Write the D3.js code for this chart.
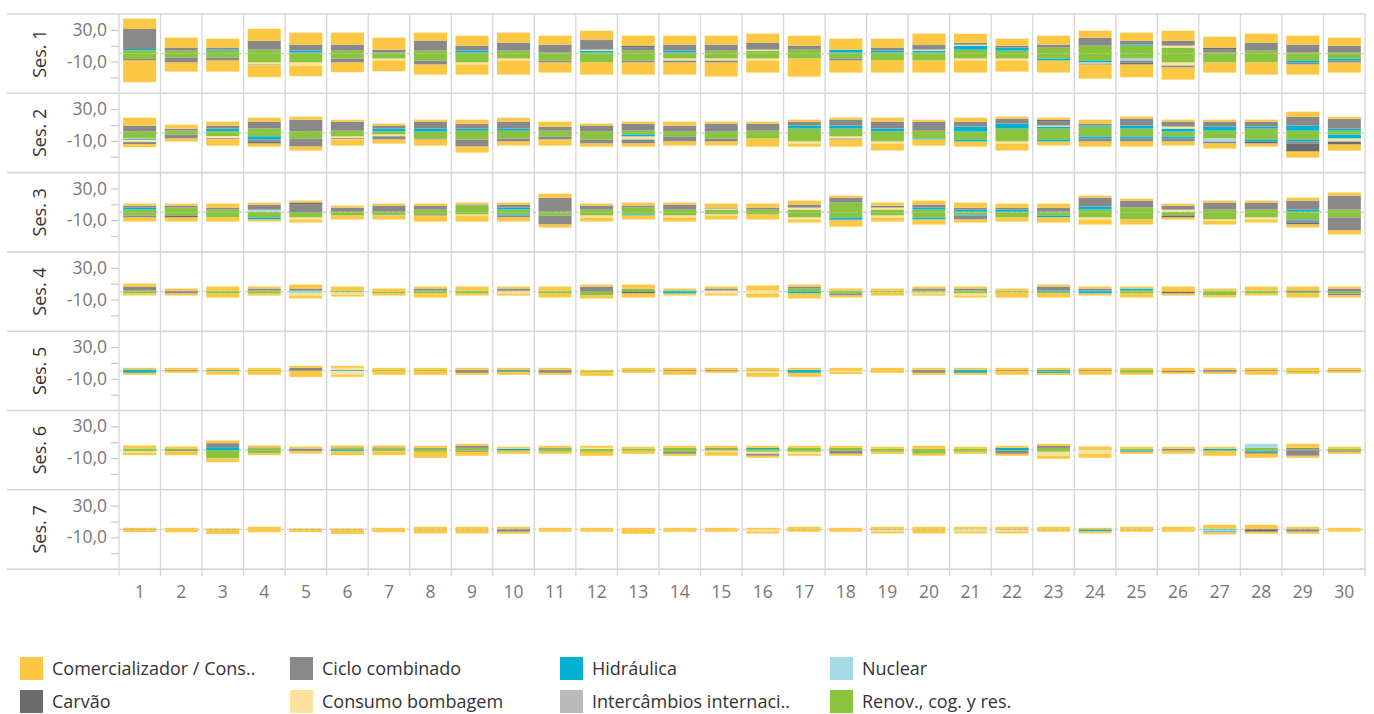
<!DOCTYPE html>
<html><head><meta charset="utf-8">
<script src="https://cdn.jsdelivr.net/npm/d3@7"></script>
<style>
body{margin:0;background:#fff;}
text{font-family:"Open Sans","Noto Sans",sans-serif;}
</style>
</head><body>
<svg id="chart" width="1374" height="714"></svg>
<script>
const sessions = ["Ses. 1","Ses. 2","Ses. 3","Ses. 4","Ses. 5","Ses. 6","Ses. 7"];
const days = ["1","2","3","4","5","6","7","8","9","10","11","12","13","14","15","16","17","18","19","20","21","22","23","24","25","26","27","28","29","30"];
const categories = ["Comercializador / Cons..","Ciclo combinado","Hidráulica","Nuclear","Carvão","Consumo bombagem","Intercâmbios internaci..","Renov., cog. y res."];
const colors = ["#FCC843","#898989","#00B2D0","#A6D9E6","#6B6B6B","#FCE29C","#BABABA","#8AC43F"];
// stacking order outward from zero
const stackOrder = ["Renov., cog. y res.","Nuclear","Intercâmbios internaci..","Hidráulica","Consumo bombagem","Ciclo combinado","Carvão","Comercializador / Cons.."];
const yTicks = [30,10,-10,-30];
const yTickLabels = ["30,0","","-10,0",""];

// ---- values (one row per session, one value per day) ----
const renovPos = [
[4.2,3.8,3.8,5,1.3,3.8,1.3,3.8,1.3,3.8,1.3,1.3,3.8,1.3,3.8,3.8,5,1.3,1.3,1.3,5,3.8,7.6,10.1,10.1,7.6,1.3,3.8,1.3,1.3],
[2.1,2.9,2.1,5.5,2.1,2.9,2.1,1.7,2.9,2.9,2.9,1.7,2.9,1.7,1.7,2.9,5.5,5.5,1.7,2.9,1.7,5.5,5.5,8,5.5,1.7,2.9,5.5,2.9,2.9],
[3.4,5.9,3.4,0.8,0,0.8,0.8,3.4,8.4,3.4,0.8,3.4,5.9,3.4,3.4,3.4,3.4,12.2,3.4,3.4,0.8,0.8,0.8,3.4,5.9,0.8,3.4,3.4,0.8,3.4],
[1.3,0,1.3,1.3,1.3,1.3,0,1.3,1.3,1.3,1.3,0,3.8,0,0,0,3.8,1.3,1.3,1.3,1.3,1.3,0,0,1.3,0,1.3,1.3,0,0],
[0,0,0,1.3,0,0,1.3,1.3,0,0,0,0,1.3,0,0,1.3,0,0,0,0,0,0,0,0,1.3,0,0,0,0,0],
[2.1,2.1,0,2.1,0,2.1,2.1,1.7,2.9,0,1.7,1.7,1.7,2.9,1.7,1.3,2.9,2.9,1.7,1.7,1.7,0,2.9,0.8,1.7,0,0,2.9,1.3,1.7],
[0,0,0,0,0,0,0,0,0,0,0,0,0,0,0,0,0,0,0,0,0,0,0.8,0,0,0,0,0,0,0]];
const renovNeg = [
[6.7,5,5,11.3,11.3,6.3,6.3,8.8,11.3,6.3,8.8,11.3,8.8,6.3,6.3,6.3,6.3,6.3,8.8,8.8,6.3,6.3,6.3,8.8,6.3,11.3,11.3,11.3,8.8,6.3],
[6.7,2.1,4.2,4.2,7.1,4.6,2.1,7.1,8.4,7.1,4.6,8.4,2.1,4.6,7.1,7.1,10.9,4.6,10.9,7.1,8.4,10.9,8.4,4.6,4.6,4.6,7.1,8.4,8.4,2.1],
[4.2,4.2,6.7,6.7,6.7,4.2,2.9,2.9,2.9,2.9,4.2,4.2,2.9,4.2,2.9,2.9,6.7,6.7,4.2,6.7,2.9,6.7,4.2,6.7,9.2,4.2,9.2,6.7,9.2,6.7],
[2.5,0,2.5,2.5,0,1.3,2.5,2.5,2.5,0,2.5,5,0,0,0,0,0,2.5,1.3,1.3,2.5,1.3,2.5,0,2.5,0,5,2.5,2.5,2.5],
[0,0,0,0,0,0,0,0,0,0,0,1.3,0,0,0,0,0,0,0,0,0,0,1.3,0,2.5,0,0,0,1.3,0],
[1.7,0,10.5,4.2,0,0,1.3,2.1,0.8,0,2.1,2.1,0.8,2.1,0.8,2.1,2.1,0.8,2.1,4.6,2.1,0.8,2.1,0,0.8,0,0,0.8,0,0.8],
[0,0,0,0,0,0,0,0,0,0,0,0,0,0,0,0,0,0,0,0,0,0,0,0,0,0,0,0,0,0]];
const nuclearPos = [
[0,0,0,0,0,0,0,0,0,0,0,0,0,0,0,0,0,0,0,0,0,0,0,0,0,0,0,0,0,0],
[0,0,0,0,0,0,0,0,0,0,0,0,0,0,0,0,0,0,0,0,0,0,0,0,0,0,0,0,0,0],
[0,0,0,2.5,0,0,0,0,0,0,0,0,0,0,0,0,0,0,0,0,0,0,0,0,0,0,0,0,0,0],
[0,0,0,0,0,0,0,0,0,0,0,0,0,0,0,0,0,0,0,0,0,0,0,0,0,0,0,0,0,0],
[0,0,0,0,0,0,0,0,0,0,0,0,0,0,0,0,0,0,0,0,0,0,0,0,0,0,0,0,0,0],
[0,0,0,0,0,0,0,0,0,0,0,0,0,0,0,0,0,0,0,0,0,0,0,0,0,0,0,5,0,0],
[0,0,0,0,0,0,0,0,0,0,0,0,0,0,0,0,0,0,0,0,0,0,0,0,0,0,0,0,0,0]];
const nuclearNeg = [
[0,0,0,0,0,0,0,0,0,0,0,0,0,0,0,0,0,0,0,0,0,0,0,0,2.5,0,0,0,0,0],
[0,0,0,0,0,0,0,0,0,0,0,0,0,0,0,0,0,0,0,0,0,0,0,0,0,0,3.8,0,0,0],
[0,0,0,0,0,0,0,0,0,0,0,0,0,0,0,0,0,0,0,0,0,0,0,0,0,0,0,0,0,0],
[0,0,0,0,2.5,0,0,0,0,0,0,0,0,0,0,0,0,0,0,0,0,0,0,0,0,0,0,0,0,0],
[0,0,0,0,0,0,0,0,0,0,0,0,0,0,0,0,0,0,0,0,0,0,0,0,0,0,0,0,0,0],
[0,0,0,0,0,0,0,0,0,0,0,0,0,0,0,0,0,0,0,0,0,0,0,0,0,0,0,0,0,0],
[0,0,0,0,0,0,0,0,0,0,0,0,0,0,0,0,0,0,0,0,0,0,0,0,0,0,2.5,0,0,0]];
const interPos = [
[0,0,0,0,0,0,0,0,0,0,0,0,0,0,0,0,0,0,0,0,0,0,0,0,0,0,0,0,0,0],
[0,0,0,0,0,0,0,0,0,0,0,0,0,0,0,0,0,0,0,0,0,0,0,0,0,0,0,0,0,0],
[0,0,0,0,0,0,0,0,0,0,0,0,0,0,0,0,0,0,0,0,0,0,0,0,0,0,0,0,0,0],
[0,0,0,0,0,0,0,0,0,0,0,0,0,0,0,0,0,0,0,0,0,0,0,0,0,0,0,0,0,0],
[0,0,0,0,0,0,0,0,0,0,0,0,0,0,0,0,0,0,0,0,0,0,0,0,0,0,0,0,0,0],
[0,0,0,0,0,0,0,0,0,0,0,0,0,0,0,0,0,0,0,0,0,0,0,0,0,0,0,0,0,0],
[0,0,0,0,0,0,0,0,0,0,0,0,0,0,0,0,0,0,0,0,0,0,0,0,0,0,0,0,0,0]];
const interNeg = [
[0,0,0,0,0,0,0,0,0,0,0,0,0,0,0,0,0,0,0,0,0,0,0,0,0,0,0,0,0,0],
[1.3,0,0,0,0,0,0,0,0,0,0,0,0,0,0,0,0,0,0,0,0,0,0,0,0,0,0,0,0,0],
[0,0,0,0,0,0,0,0,0,0,0,0,0,0,0,0,0,0,0,0,0,0,0,0,0,0,0,0,0,0],
[0,0,0,0,0,0,0,0,0,0,0,0,0,0,0,0,0,0,0,0,0,0,0,0,0,0,0,0,0,0],
[0,0,0,0,0,0,0,0,0,0,0,0,0,0,0,0,0,0,0,0,0,0,0,0,0,0,0,0,0,0],
[0,0,0,0,0,0,0,0,0,0,0,0,0,0,0,0,0,0,0,0,0,0,0,0,0,0,0,0,0,0],
[0,0,0,0,0,0,0,0,0,0,0,0,0,0,0,0,0,0,0,0,0,0,0,0,0,0,0,0,0,0]];
const hidrPos = [
[1.7,0,1.3,0,2.5,0,0,0,2.5,0,0,2.5,0,2.5,0,0,0,3.8,2.5,2.5,5,3.8,0,0,1.3,0,0,0,0,0],
[0,0,3.4,0,0,0,3.4,3.8,2.5,2.5,0,0,0,0,0,0,3.8,3.8,3.8,0,6.3,6.3,2.5,1.3,3.8,3.8,5,2.5,6.3,2.5],
[2.5,0,0,0,0,0,0,0,0,2.5,0,0,0,0,0,0,0,0,0,2.5,2.5,2.5,0,3.8,0,0,0,0,2.5,0],
[0,0,0,0,0,0,0,0,0,0,0,0,0,1.3,0,0,0,0,0,0,0,0,1.3,1.3,2.5,0,0,0,0,0],
[1.7,0,1.3,0,0,1.3,0,0,0,1.3,0,0,0,0,0,0,1.3,0,0,0,1.3,0,1.3,0,0,0,0,0,0,0],
[0,0,3.8,0,0,0,0,0,0,1.7,0,0,0,0,0,1.7,0,0,0,0,0,2.9,0,0,0,0,1.7,0,0,0],
[0,0,0,0,0,0,0,0,0,0,0,0,0,0,0,0,0,0,0,0,0.8,0,0,0,0,0,0.8,0,0,0]];
const hidrNeg = [
[0,0,0,0,0,0,0,0,0,0,0,0,0,0,0,0,0,0,0,0,0,0,2.5,2.5,0,0,0,0,2.5,2.5],
[1,0,0,4.2,0,0,0,0,0,0,0,0,2.5,0,0,0,0,0,0,1.3,2.5,0,2.5,2.5,2.5,2.5,0,2.5,2.5,5],
[0,0,0,2.5,0,0,0.8,0,0,1.3,0,0,1.3,0,0,0,0,2.5,0,2.5,1.3,0,2.5,0,0,0,0,0,1.3,0],
[0,0,0,0,0,0,0,0,0,0,0,0,0,2.5,0,0,2.5,0,0,0,0,0,0,2.5,0,0,0,0,0,0],
[2.5,0,0,0,0,0,0,0,0,0,0,0,0,0,0,0,2.5,0,0,0,2.5,0,1.3,0,0,0,0,0,0,0],
[0,0,0,0,0,1.3,0,0,0,0.8,0,0,0,0,0,0,0,0,0,0,0,0,0,0,1.3,0,0.8,1.3,0,0],
[0,0,0,0,0,0,0,0,0,0,0,0,0,0,0,0,0,0,0,0,0,0,0,2.5,0,0,1.3,0,0,0]];
const consPos = [
[0,0,0,0,0,0,0,0,0,0,0,1.3,0,0,0,1.3,0,0,0,1.3,1.3,0,0,0,0,2.5,0,0,0,0],
[0,0,0,0,0,0,0,0,0,0,0,0,0,0,0,0,0,0,0,0,0,0,1.3,0,0,2.5,0,0,0,0],
[0,0,0,0,0,0,0,0,0,0,0,0,0,0,1.3,0,2.5,0,2.5,0,0,0,0,0,0,2.5,0,0,0,0],
[0,0,0,0,0,0,0,0,0,0,0,0,0,0,1.3,1.3,0,0,0,0,0,0,0,0,0,0,0,0,0,0],
[0,0,0,0,0,2.5,0,0,0,0,0,0,0,0,0,0,0,0,0,0,0,0,0,0,0,0,0,0,0,0],
[0,0,0,0,0,0,0,0,0,0,0,1.3,0,0,0,0,0,0,0,0,0,0,0,0,0,0,0,0,0,0],
[0,0,0,0,0,0,0,0,0,0,0,0,0,0,0,0,0,0,0,0,0,0,0,0,0,0,0,0,0,0]];
const consNeg = [
[0,0,0,2.5,3.8,0,2.5,0,2.5,2.5,0,0,0,2.5,2.5,2.5,0,0,0,0,2.5,2.5,0,1.3,0,3.8,0,0,0,0],
[2.5,0,2.5,0,0,2.1,2.1,0,0,0,0,0,3.8,0,0,0,2.5,2.5,2.5,0,0,2.5,0,0,0,0,0,0,0,3.8],
[0,0,0,0,2.5,0,0,0,1.3,0,0,2.5,0,2.5,1.3,0,2.5,0,2.5,0,0,0,0,2.5,0,0,1.3,2.5,0,0],
[0,0,0,0,2.5,2.5,0,0,0,2.5,0,0,0,0,2.5,2.5,0,0,0,1.3,2.5,0,0,0,0,0,0,0,0,0],
[0,0,0,0,0,5,0,0,0,0,0,0,0,0,0,2.5,0,1.3,0,0,0,0,0,0,0,0,0,0,0,0],
[1.7,0,0,0,0,0,0,0,0,0,0,0,0,0,1.3,2.5,2.5,0,0,0,0,0,5,4.6,0,0,0,0,0,0],
[0,0,0,0,0,0,0,0,0,0,0,0,0,0,0,2.5,0,0,2.5,0,2.5,2.5,0,0,0,0,0,0,0,0]];
const cicloPos = [
[25.2,3.8,2.5,11.3,7.6,7.6,3.8,12.6,6.3,10.1,10.1,11.3,3.8,7.6,7.6,8.8,5,0,3.8,5,2.5,2.5,3.8,10.1,5,6.3,3.8,10.1,10.1,8.8],
[7.1,2.5,3.8,8.8,14.7,11.3,3.8,8.8,6.3,8.8,5,7.6,8.8,7.6,10.1,8.8,5,7.6,8.8,11.3,6.3,6.3,5,2.5,8.8,6.3,6.3,6.3,11.3,12.6],
[2.5,2.5,2.5,6.3,9.7,5,7.6,5,1.3,3.8,17.6,5,2.5,6.3,1.3,2.5,3.8,6.3,2.5,3.8,2.5,2.5,5,11.3,8.8,5,8.8,8.8,11.3,17.6],
[5,1.3,0,2.5,2.5,0,0,2.5,0,2.5,0,6.3,0,0,2.5,0,2.5,0,0,2.5,2.5,0,5,2.5,0,0,0,0,0,3.8],
[0,1.3,0,0,3.8,0,0,0,1.3,0,1.3,0,0,1.3,1.3,0,0,0,0,1.3,0,1.3,0,1.3,0,0,1.3,1.3,0,1.3],
[0,0,5,1.3,2.1,1.3,1.3,1.3,2.5,0,1.3,0,0,0,1.3,0,0,0,0,0,0,0,2.5,0,0,1.7,0,0,1.7,0],
[0,0,0,0,0,0,0,0.8,0.8,0.8,0,0,0,0,0,0,0.8,0,0.8,0.8,0,0.8,0,0,0.8,0,0,0,0.8,0]];
const cicloNeg = [
[2.1,6.3,3.8,0.8,0,5,0,5,0,0,2.5,0,2.5,2.5,2.5,0,0,2.5,0,0,0,0,0,1.3,2.5,2.5,0,0,2.5,2.5],
[2.5,5,1.3,2.5,10.1,1.3,4.2,1.3,8.8,3.8,3.8,5,5,6.3,3.8,0,0,1.3,0,0,0,0,0,3.8,3.8,3.8,2.5,0,2.5,0],
[2.5,0,0,0,0,0,0,0,0,2.5,11.3,0,0,0,0,0,0,1.3,0,0,5,0,0,0,0,0,0,0,2.5,16.4],
[0,2.5,0,0,0,0,0,0,0,0,0,0,0,0,0,0,0,2.5,0,0,0,0,0,0,0,0,0,0,0,2.5],
[0,0,0,0,0,0,0,0,2.5,1.3,2.5,0,0,0,0,0,0,0,0,2.5,0,0,0,0,0,0,1.3,0,0,0],
[0,1.3,0,0,1.3,0,0,0,1.3,0,0,0,0,2.5,0,2.5,0,3.8,0,0,0,3.8,0,0,0,0.8,0,2.5,7.1,1.3],
[0.8,0,0.8,0,0.8,0.8,0,0,0,2.9,0,0,0,0,0,0,0,0,0,0,0,0,0,0,0,0,0,0,2.9,0]];
const carvPos = [
[0,0,0,0,0,0,0,0,0,0,0,1.3,2.5,0,0,0,0,0,0,1.3,0,0,0,0,0,0,2.5,0,0,0],
[0,0,0,0,0,0,0,0,0,0,0,0,0,0,0,0,0,0,0,0,0,0,2.5,0,0,0,0,0,0,0],
[0,0,0,0,2.5,0,0,0,0,0,0,0,0,0,0,0,0,0,0,0,0,0,0,0,0,0,0,0,0,0],
[0,0,0,0,0,0,0,0,0,0,0,0,0,0,0,0,0,0,0,0,0,0,0,0,0,0,0,0,1.3,0],
[0,0,0,0,0,0,0,0,0,0,0,0,0,0,0,0,0,0,0,0,0,0,0,0,0,0,0,0,0,0],
[0,0,0,0,0,0,0,0,0,0,0,0,0,0,0,0,0,0,0,0,0,0,0,0,0,0,0,0,0,0],
[0,0,0,0,0,0,0,0,0,0,0,0,0,0,0,0,0,0,0,0,0,0,0,0,0,0,0,0.8,0,0]];
const carvNeg = [
[0,0,0,0,0,0,0,0,0,0,0,0,0,0,0,0,0,0,0,0,0,0,0,0,2.5,0,0,0,0,0],
[0,0,0,2.5,0,0,0,0,0,0,0,0,0,0,0,0,0,0,0,0,0,0,0,0,0,0,0,2.5,10.1,3.8],
[0,2.5,0,0,0,0,0,1.3,0,0,0,0,0,0,0,0,0,0,0,0,0,0,0,0,0,2.5,0,0,2.5,0],
[0,0,0,0,0,0,0,0,0,0,0,0,2.5,0,0,0,0,0,0,0,0,0,0,0,0,2.5,0,0,0,0],
[0,0,0,0,0,0,0,0,0,0,0,0,0,0,0,0,0,0,0,0,0,0,0,0,0,1.3,0,0,0,0],
[0,0,0,0,0,0,0,0,0,0,0,0,0,0,0,0,0,0,0,0,0,0,0,0,0,0,0,0,0,0],
[0,0,0,0,0,0,0,0,0,0,0,0,0,0,0,0,0,0,0,0,0,0,0,0,0,0,0,2.9,0,0]];
const comPos = [
[13,12.6,11.3,15.1,15.1,15.1,15.1,10.1,12.6,12.6,11.3,11.3,12.6,11.3,11.3,11.3,12.6,13.9,11.3,13.9,11.3,8.8,11.3,8.8,10.1,12.6,13.9,11.3,11.3,10.1],
[10.1,5,5,5,3.8,2.5,2.5,2.5,5,5,6.3,2.5,2.5,5,2.5,2.5,2.5,2.5,5,2.5,5,2.5,2.5,5,2.5,2.5,2.5,2.5,6.3,2.5],
[2.5,2.5,5,2.5,2.5,2.5,2.5,2.5,2.5,2.5,5,2.5,3.8,2.5,5,5,5,2.5,3.8,5,6.3,5,5,2.5,2.5,2.5,2.5,2.5,3.8,3.8],
[3.8,2.5,5,2.5,5,5,3.8,2.5,5,2.5,5,2.5,5,2.5,2.5,6.3,2.5,2.5,2.5,2.5,2.5,2.5,2.5,2.5,2.5,6.3,2.5,5,5,2.5],
[2.1,2.5,2.5,2.5,2.5,2.5,2.5,2.5,2.5,2.5,2.5,1.3,2.5,2.5,2.5,2.5,2.5,3.8,3.8,2.5,2.5,2.5,2.5,2.5,2.5,3.8,2.5,2.5,3.8,2.5],
[3.8,2.5,3.4,2.5,2.5,2.5,2.5,2.5,2.5,2.5,2.5,2.5,2.5,2.5,2.5,2.5,2.5,2.5,2.5,3.8,2.5,2.5,2.5,3.8,2.5,2.5,2.5,0,5,2.5],
[2.1,2.1,1.3,3.4,1.3,1.3,2.1,2.5,2.5,2.5,2.1,2.1,2.1,2.1,2.1,2.1,2.5,2.1,2.5,2.5,2.5,2.5,2.5,2.1,2.5,3.4,5,5,2.5,2.1]];
const comNeg = [
[27.3,11.3,13.9,15.1,13.4,12.2,13.4,12.6,12.6,17.6,12.6,15.1,15.1,15.1,17.6,15.1,22.7,15.1,15.1,15.1,15.1,13.9,15.1,17.6,16,15.1,12.6,15.1,12.6,12.6],
[3.8,3.8,8,3.8,5,8,5,7.6,7.6,5,7.6,3.8,3.8,5,5,10.1,3.8,8.8,8.8,7.6,6.3,8.8,5,6.3,6.3,5,6.3,3.8,7.6,7.6],
[5,5,5,2.5,3.8,5,5.5,7.6,7.6,5,3.8,5,5,5,5,6.3,3.8,7.6,5,6.3,3.8,5,6.3,6.3,6.3,2.5,5,3.8,3.8,5],
[2.5,2.5,5,2.5,3.8,2.5,2.5,5,2.5,2.5,5,3.8,5,2.5,2.5,5,6.3,2.5,3.8,2.5,2.5,6.3,5,2.5,5,2.5,2.5,2.5,5,2.5],
[2.5,2.5,5,5,7.6,2.5,5,5,2.5,3.8,2.5,5,2.5,5,2.5,5,5,2.5,2.5,2.5,2.5,5,2.5,5,2.5,2.5,2.5,5,2.5,2.5],
[2.9,5,4.6,2.1,2.9,5,5,7.6,5,3.8,2.5,5,3.8,2.5,5,2.5,2.5,2.5,2.5,2.5,2.5,2.5,3.8,5,2.5,3.8,6.3,5,2.5,2.5],
[2.5,3.4,5,3.4,2.5,5,3.4,5,5,2.5,2.9,2.9,5.5,2.9,2.9,2.5,2.9,2.9,2.5,5,2.5,2.5,2.9,2.5,2.9,2.9,2.5,2.5,2.5,2.9]];

const posByCat = {
  "Comercializador / Cons..": comPos, "Ciclo combinado": cicloPos, "Hidráulica": hidrPos,
  "Nuclear": nuclearPos, "Carvão": carvPos, "Consumo bombagem": consPos,
  "Intercâmbios internaci..": interPos, "Renov., cog. y res.": renovPos };
const negByCat = {
  "Comercializador / Cons..": comNeg, "Ciclo combinado": cicloNeg, "Hidráulica": hidrNeg,
  "Nuclear": nuclearNeg, "Carvão": carvNeg, "Consumo bombagem": consNeg,
  "Intercâmbios internaci..": interNeg, "Renov., cog. y res.": renovNeg };

// ---- layout ----
const svg = d3.select("#chart");
const plotLeft = 119, plotRight = 1365, plotTop = 14, rowH = 79.3;
const color = d3.scaleOrdinal().domain(categories).range(colors);
const x = d3.scaleBand().domain(days).range([plotLeft, plotRight]).paddingInner(0.205).paddingOuter(0.1);
const xCols = d3.scaleBand().domain(days).range([plotLeft, plotRight]).padding(0);
const rowY = d3.scaleBand().domain(sessions).range([plotTop, plotTop + rowH * sessions.length]).padding(0);
const plotBottom = plotTop + rowH * sessions.length;

// vertical column grid lines
const gGrid = svg.append("g");
const bounds = days.map(d => xCols(d)).concat([plotRight]);
gGrid.selectAll("line.v").data(bounds).join("line").attr("class", "v")
  .attr("x1", d => d).attr("x2", d => d).attr("y1", plotTop).attr("y2", plotBottom + 7)
  .attr("stroke", "#d6d6d6").attr("stroke-width", 1.3);
// horizontal row separators
const hLines = sessions.map(s => rowY(s)).concat([plotBottom]);
gGrid.selectAll("line.h").data(hLines).join("line").attr("class", "h")
  .attr("x1", 7).attr("x2", plotRight).attr("y1", d => d).attr("y2", d => d)
  .attr("stroke", "#d6d6d6").attr("stroke-width", 1.6);

sessions.forEach((s, si) => {
  const y0 = rowY(s);
  const y = d3.scaleLinear().domain([-50, 50]).range([y0 + rowH, y0]);
  const g = svg.append("g");
  // zero line
  g.append("line").attr("x1", plotLeft).attr("x2", plotRight)
    .attr("y1", y(0)).attr("y2", y(0))
    .attr("stroke", "#cfcfcf").attr("stroke-width", 1.3).attr("stroke-dasharray", "3,3");
  // bars
  const segs = [];
  days.forEach((d, di) => {
    let cp = 0, cn = 0;
    stackOrder.forEach(cat => {
      const vp = posByCat[cat][si][di];
      if (vp > 0) { segs.push({d, cat, a: cp, b: cp + vp}); cp += vp; }
      const vn = negByCat[cat][si][di];
      if (vn > 0) { segs.push({d, cat, a: -cn - vn, b: -cn}); cn += vn; }
    });
  });
  g.selectAll("rect").data(segs).join("rect")
    .attr("x", d => x(d.d)).attr("width", x.bandwidth())
    .attr("y", d => y(d.b)).attr("height", d => y(d.a) - y(d.b))
    .attr("fill", d => color(d.cat));
  // y axis
  const ax = d3.axisLeft(y).tickValues(yTicks).tickSize(8)
    .tickFormat((v, i) => yTickLabels[i]);
  const ga = svg.append("g").attr("transform", `translate(${plotLeft},0)`).call(ax);
  ga.select(".domain").remove();
  ga.selectAll(".tick line").attr("stroke", "#c8c8c8").attr("stroke-width", 1.2);
  ga.selectAll(".tick text").attr("fill", "#777").attr("font-size", 17.5).attr("x", -12)
    .attr("font-family", "'Open Sans','Noto Sans',sans-serif");
  // session label
  svg.append("text").attr("transform", `translate(40,${y0 + rowH / 2}) rotate(-90)`)
    .attr("text-anchor", "middle").attr("dy", "0.35em")
    .attr("font-size", 18).attr("fill", "#333").text(s);
});

// bottom axis labels
const gx = svg.append("g");
gx.selectAll("text").data(days).join("text")
  .attr("x", d => xCols(d) + xCols.bandwidth() / 2).attr("y", plotBottom + 29)
  .attr("text-anchor", "middle").attr("font-size", 17.5).attr("fill", "#777").text(d => d);

// legend
const legX = [20, 290, 560, 830], legY = [657, 690];
const lg = svg.append("g");
categories.forEach((c, i) => {
  const col = i % 4, row = Math.floor(i / 4);
  lg.append("rect").attr("x", legX[col]).attr("y", legY[row]).attr("width", 23).attr("height", 23)
    .attr("fill", color(c));
  lg.append("text").attr("x", legX[col] + 32).attr("y", legY[row] + 12).attr("dy", "0.35em")
    .attr("font-size", 18).attr("fill", "#333").text(c);
});
</script>
</body></html>
